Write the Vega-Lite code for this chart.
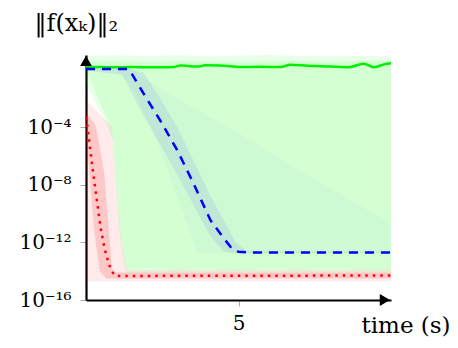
{
  "$schema": "https://vega.github.io/schema/vega-lite/v6.json",
  "width": 305,
  "height": 245,
  "autosize": "none",
  "padding": {"left": 86, "top": 55, "right": 67, "bottom": 48},
  "config": {"view": {"stroke": null}, "font": "DejaVu Serif",
    "axis": {"labelFont": "DejaVu Serif", "titleFont": "DejaVu Serif"}},
  "datasets": {
    "bands": [
      {"band": "G1", "x": 0, "lo": -1.0, "hi": 0.95},
      {"band": "G1", "x": 0.6, "lo": -3.5, "hi": 0.97},
      {"band": "G1", "x": 0.9, "lo": -5.0, "hi": 1.0},
      {"band": "G1", "x": 1.1, "lo": -11.5, "hi": 0.98},
      {"band": "G1", "x": 1.3, "lo": -14.1, "hi": 0.97},
      {"band": "G1", "x": 2, "lo": -14.1, "hi": 0.93},
      {"band": "G1", "x": 3, "lo": -14.1, "hi": 1.0},
      {"band": "G1", "x": 4, "lo": -14.1, "hi": 0.9},
      {"band": "G1", "x": 5, "lo": -14.1, "hi": 0.97},
      {"band": "G1", "x": 6, "lo": -14.1, "hi": 1.0},
      {"band": "G1", "x": 7, "lo": -14.1, "hi": 0.95},
      {"band": "G1", "x": 8, "lo": -14.1, "hi": 0.9},
      {"band": "G1", "x": 9, "lo": -14.1, "hi": 0.95},
      {"band": "G1", "x": 10, "lo": -14.1, "hi": 0.9},
      {"band": "G2", "x": 0, "lo": 0.0, "hi": 0.55},
      {"band": "G2", "x": 0.4, "lo": -2.0, "hi": 0.55},
      {"band": "G2", "x": 0.85, "lo": -4.2, "hi": 0.6},
      {"band": "G2", "x": 1.15, "lo": -11.8, "hi": 0.55},
      {"band": "G2", "x": 1.35, "lo": -13.9, "hi": 0.55},
      {"band": "G2", "x": 2, "lo": -13.8, "hi": 0.5},
      {"band": "G2", "x": 3, "lo": -13.9, "hi": 0.6},
      {"band": "G2", "x": 4, "lo": -13.85, "hi": 0.55},
      {"band": "G2", "x": 5, "lo": -13.95, "hi": 0.5},
      {"band": "G2", "x": 6, "lo": -13.85, "hi": 0.55},
      {"band": "G2", "x": 7, "lo": -13.9, "hi": 0.6},
      {"band": "G2", "x": 8, "lo": -13.85, "hi": 0.5},
      {"band": "G2", "x": 9, "lo": -13.9, "hi": 0.6},
      {"band": "G2", "x": 10, "lo": -13.9, "hi": 0.6},
      {"band": "B1", "x": 0, "lo": -0.1, "hi": 0.1},
      {"band": "B1", "x": 1.0, "lo": -0.1, "hi": 0.1},
      {"band": "B1", "x": 1.45, "lo": -1.1, "hi": 0.1},
      {"band": "B1", "x": 1.6, "lo": -1.5, "hi": -0.1},
      {"band": "B1", "x": 2.43, "lo": -5.6, "hi": -1.3},
      {"band": "B1", "x": 3.65, "lo": -12.75, "hi": -2.8},
      {"band": "B1", "x": 5, "lo": -12.75, "hi": -4.4},
      {"band": "B1", "x": 7, "lo": -12.75, "hi": -7.0},
      {"band": "B1", "x": 10, "lo": -12.75, "hi": -10.7},
      {"band": "B2", "x": 0, "lo": -0.05, "hi": 0.06},
      {"band": "B2", "x": 1.2, "lo": -0.4, "hi": 0.06},
      {"band": "B2", "x": 1.4, "lo": -1.2, "hi": 0.06},
      {"band": "B2", "x": 1.88, "lo": -3.2, "hi": -0.2},
      {"band": "B2", "x": 2.43, "lo": -5.2, "hi": -2.0},
      {"band": "B2", "x": 2.99, "lo": -7.3, "hi": -4.0},
      {"band": "B2", "x": 3.52, "lo": -9.4, "hi": -6.3},
      {"band": "B2", "x": 4.08, "lo": -11.6, "hi": -8.8},
      {"band": "B2", "x": 4.51, "lo": -12.6, "hi": -10.4},
      {"band": "B2", "x": 4.9, "lo": -12.75, "hi": -12.0},
      {"band": "B2", "x": 5.3, "lo": -12.75, "hi": -12.6},
      {"band": "B2", "x": 10, "lo": -12.75, "hi": -12.65},
      {"band": "R1", "x": 0, "lo": -14.7, "hi": -2.1},
      {"band": "R1", "x": 0.85, "lo": -14.7, "hi": -4.0},
      {"band": "R1", "x": 1.15, "lo": -14.7, "hi": -11.8},
      {"band": "R1", "x": 1.35, "lo": -14.7, "hi": -13.9},
      {"band": "R1", "x": 10, "lo": -14.7, "hi": -13.9},
      {"band": "R2", "x": 0, "lo": -4.5, "hi": -3.0},
      {"band": "R2", "x": 0.1, "lo": -6.8, "hi": -3.3},
      {"band": "R2", "x": 0.26, "lo": -11.06, "hi": -3.7},
      {"band": "R2", "x": 0.33, "lo": -12.2, "hi": -4.0},
      {"band": "R2", "x": 0.45, "lo": -14.0, "hi": -5.4},
      {"band": "R2", "x": 0.6, "lo": -14.35, "hi": -7.2},
      {"band": "R2", "x": 0.66, "lo": -14.5, "hi": -8.8},
      {"band": "R2", "x": 0.76, "lo": -14.5, "hi": -11.4},
      {"band": "R2", "x": 0.85, "lo": -14.5, "hi": -13.8},
      {"band": "R2", "x": 0.95, "lo": -14.5, "hi": -14.1},
      {"band": "R2", "x": 10, "lo": -14.5, "hi": -14.1}
    ],
    "lines": [
      {"s": "green", "x": 0, "y": 0.17},
      {"s": "green", "x": 0.5, "y": 0.16},
      {"s": "green", "x": 1.0, "y": 0.15},
      {"s": "green", "x": 1.5, "y": 0.16},
      {"s": "green", "x": 2.0, "y": 0.15},
      {"s": "green", "x": 2.5, "y": 0.15},
      {"s": "green", "x": 2.9, "y": 0.17},
      {"s": "green", "x": 3.1, "y": 0.28},
      {"s": "green", "x": 3.4, "y": 0.22},
      {"s": "green", "x": 3.7, "y": 0.2},
      {"s": "green", "x": 3.9, "y": 0.29},
      {"s": "green", "x": 4.4, "y": 0.27},
      {"s": "green", "x": 5.07, "y": 0.17},
      {"s": "green", "x": 5.7, "y": 0.18},
      {"s": "green", "x": 6.38, "y": 0.17},
      {"s": "green", "x": 6.7, "y": 0.33},
      {"s": "green", "x": 7.27, "y": 0.25},
      {"s": "green", "x": 8.0, "y": 0.2},
      {"s": "green", "x": 8.6, "y": 0.15},
      {"s": "green", "x": 9.1, "y": 0.4},
      {"s": "green", "x": 9.44, "y": 0.15},
      {"s": "green", "x": 9.77, "y": 0.35},
      {"s": "green", "x": 10, "y": 0.42},
      {"s": "blue", "x": 0, "y": 0.03},
      {"s": "blue", "x": 1.38, "y": 0.03},
      {"s": "blue", "x": 1.5, "y": -0.3},
      {"s": "blue", "x": 1.88, "y": -1.65},
      {"s": "blue", "x": 2.43, "y": -3.53},
      {"s": "blue", "x": 2.99, "y": -5.6},
      {"s": "blue", "x": 3.52, "y": -7.89},
      {"s": "blue", "x": 4.08, "y": -10.46},
      {"s": "blue", "x": 4.51, "y": -11.7},
      {"s": "blue", "x": 4.8, "y": -12.47},
      {"s": "blue", "x": 5.0, "y": -12.65},
      {"s": "blue", "x": 5.3, "y": -12.7},
      {"s": "blue", "x": 10, "y": -12.7},
      {"s": "red", "x": 0, "y": -3.3},
      {"s": "red", "x": 0.02, "y": -3.53},
      {"s": "red", "x": 0.21, "y": -6.78},
      {"s": "red", "x": 0.48, "y": -11.01},
      {"s": "red", "x": 0.62, "y": -12.53},
      {"s": "red", "x": 0.76, "y": -13.57},
      {"s": "red", "x": 0.92, "y": -14.27},
      {"s": "red", "x": 1.1, "y": -14.33},
      {"s": "red", "x": 10, "y": -14.3}
    ],
    "arrows": [
      {"dir": "right", "x": 9.8, "y": -16},
      {"dir": "up", "x": 0, "y": 0.59}
    ]
  },
  "encoding": {
    "x": {"field": "x", "type": "quantitative",
      "scale": {"domain": [0, 10], "nice": false, "zero": false}},
    "y": {"type": "quantitative"}
  },
  "layer": [
    {
      "data": {"name": "bands"},
      "transform": [{"filter": "datum.band == 'G1'"}],
      "mark": {"type": "area", "color": "#00ff00", "opacity": 0.09},
      "encoding": {
        "x": {"field": "x", "type": "quantitative",
          "axis": {"values": [5], "grid": false, "labelFontSize": 20, "labelColor": "black", "labelPadding": 7,
            "labelFont": "DejaVu Serif", "titleFont": "DejaVu Serif",
            "tickColor": "#aaaaaa", "tickSize": 6, "domainColor": "black", "domainWidth": 2.2,
            "title": "time (s)", "titleFontSize": 23, "titleFontWeight": "normal", "titleColor": "black",
            "titleAngle": 0, "titleAlign": "left", "titleBaseline": "alphabetic", "titleX": 275, "titleY": 32}},
        "y": {"field": "lo", "type": "quantitative",
          "scale": {"domain": [-16, 1], "nice": false, "zero": false},
          "axis": {"values": [-16, -12, -8, -4], "grid": false, "labelFontSize": 20, "labelColor": "black",
            "labelFont": "DejaVu Serif", "titleFont": "DejaVu Serif",
            "labelPadding": 9, "tickColor": "#aaaaaa", "tickSize": 6, "domainColor": "black", "domainWidth": 2.2,
            "labelExpr": "datum.value == -16 ? '10⁻¹⁶' : datum.value == -12 ? '10⁻¹²' : datum.value == -8 ? '10⁻⁸' : '10⁻⁴'",
            "title": "‖f(xₖ)‖₂", "titleFontSize": 24, "titleFontWeight": "normal", "titleColor": "black",
            "titleAngle": 0, "titleAlign": "left", "titleBaseline": "alphabetic", "titleX": -52, "titleY": -25}},
        "y2": {"field": "hi"}
      }
    },
    {
      "data": {"name": "bands"},
      "transform": [{"filter": "datum.band == 'G2'"}],
      "mark": {"type": "area", "color": "#00ff00", "opacity": 0.09},
      "encoding": {"y": {"field": "lo", "type": "quantitative"}, "y2": {"field": "hi"}}
    },
    {
      "data": {"name": "bands"},
      "transform": [{"filter": "datum.band == 'B1'"}],
      "mark": {"type": "area", "color": "#0000ff", "opacity": 0.02},
      "encoding": {"y": {"field": "lo", "type": "quantitative"}, "y2": {"field": "hi"}}
    },
    {
      "data": {"name": "bands"},
      "transform": [{"filter": "datum.band == 'B2'"}],
      "mark": {"type": "area", "color": "#0000ff", "opacity": 0.07},
      "encoding": {"y": {"field": "lo", "type": "quantitative"}, "y2": {"field": "hi"}}
    },
    {
      "data": {"name": "bands"},
      "transform": [{"filter": "datum.band == 'R1'"}],
      "mark": {"type": "area", "color": "#ff0000", "opacity": 0.08},
      "encoding": {"y": {"field": "lo", "type": "quantitative"}, "y2": {"field": "hi"}}
    },
    {
      "data": {"name": "bands"},
      "transform": [{"filter": "datum.band == 'R2'"}],
      "mark": {"type": "area", "color": "#ff0000", "opacity": 0.15},
      "encoding": {"y": {"field": "lo", "type": "quantitative"}, "y2": {"field": "hi"}}
    },
    {
      "data": {"name": "lines"},
      "transform": [{"filter": "datum.s == 'green'"}],
      "mark": {"type": "line", "color": "#00f000", "strokeWidth": 2.5, "interpolate": "monotone"},
      "encoding": {"y": {"field": "y", "type": "quantitative"}}
    },
    {
      "data": {"name": "lines"},
      "transform": [{"filter": "datum.s == 'blue'"}],
      "mark": {"type": "line", "color": "#0000ff", "strokeWidth": 2.5, "strokeDash": [9, 7]},
      "encoding": {"y": {"field": "y", "type": "quantitative"}}
    },
    {
      "data": {"name": "lines"},
      "transform": [{"filter": "datum.s == 'red'"}],
      "mark": {"type": "line", "color": "#ff0000", "strokeWidth": 2.5, "strokeDash": [2.5, 5]},
      "encoding": {"y": {"field": "y", "type": "quantitative"}}
    },
    {
      "data": {"name": "arrows"},
      "transform": [{"filter": "datum.dir == 'right'"}],
      "mark": {"type": "point", "shape": "triangle-right", "filled": true, "color": "black", "opacity": 1, "size": 140},
      "encoding": {"y": {"field": "y", "type": "quantitative"}}
    },
    {
      "data": {"name": "arrows"},
      "transform": [{"filter": "datum.dir == 'up'"}],
      "mark": {"type": "point", "shape": "triangle-up", "filled": true, "color": "black", "opacity": 1, "size": 140},
      "encoding": {"y": {"field": "y", "type": "quantitative"}}
    }
  ]
}
